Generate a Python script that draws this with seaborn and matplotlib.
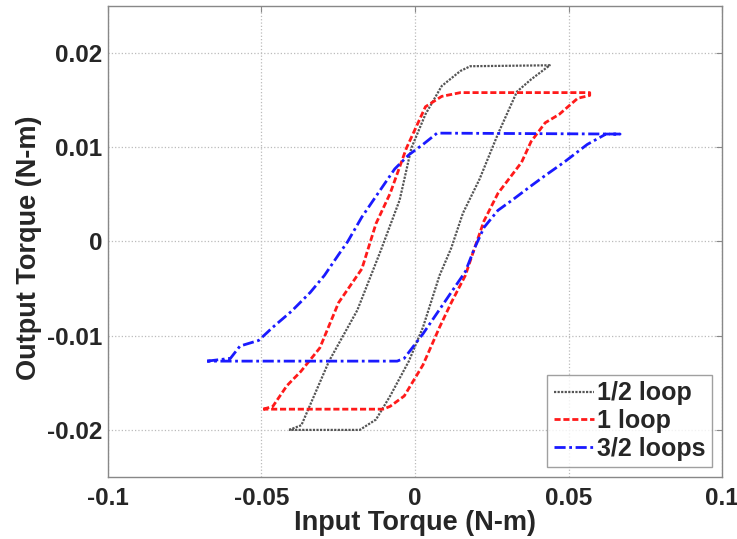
import matplotlib
matplotlib.use("Agg")
import matplotlib.pyplot as plt
import seaborn as sns
import pandas as pd

# ---- data ----
half_x = [-0.041, -0.037, -0.028, -0.0188, -0.0112, -0.005, -0.0012, 0.0034, 0.0087, 0.0148, 0.018, 0.0439,
          0.0378, 0.0332, 0.027, 0.021, 0.0156, 0.0118, 0.008, 0.0026, -0.002, -0.0081, -0.0127, -0.018, -0.041]
half_y = [-0.020, -0.0195, -0.0127, -0.0073, -0.001, 0.0044, 0.0099, 0.0135, 0.0165, 0.0181, 0.0186, 0.0187,
          0.0172, 0.0159, 0.0114, 0.0066, 0.003, -0.0007, -0.0036, -0.0091, -0.0127, -0.0164, -0.0189, -0.020, -0.020]

one_x = [-0.0494, -0.0463, -0.0417, -0.0372, -0.031, -0.0249, -0.0173, -0.0127, -0.0081, -0.0028, 0.0003, 0.0034,
         0.0087, 0.0148, 0.0569, 0.0569, 0.053, 0.047, 0.0424, 0.0378, 0.0347, 0.027, 0.0225, 0.0194, 0.0164,
         0.0118, 0.008, 0.0026, -0.0035, -0.0081, -0.0104, -0.0494]
one_y = [-0.0178, -0.0175, -0.0153, -0.0138, -0.0113, -0.0065, -0.0029, 0.0019, 0.0051, 0.0099, 0.0121, 0.0143,
         0.0154, 0.0158, 0.0158, 0.0155, 0.0152, 0.0135, 0.0126, 0.0106, 0.0084, 0.0051, 0.0022, -0.0007, -0.0036,
         -0.0065, -0.0091, -0.0131, -0.0164, -0.0175, -0.0178, -0.0178]

three_x = [-0.0677, -0.0601, -0.057, -0.0509, -0.0463, -0.0402, -0.0341, -0.0295, -0.0249, -0.0219, -0.0173,
           -0.0127, -0.0066, -0.002, 0.0026, 0.0072, 0.0668, 0.0622, 0.0561, 0.0485, 0.0424, 0.0378, 0.0317,
           0.027, 0.0225, 0.0194, 0.0164, 0.0118, 0.0072, 0.0026, -0.0035, -0.0058, -0.0677]
three_y = [-0.0127, -0.0124, -0.0111, -0.0105, -0.0091, -0.0074, -0.0054, -0.0036, -0.0014, 0.0, 0.0026,
           0.0048, 0.0077, 0.0092, 0.0103, 0.0115, 0.0114, 0.0114, 0.0103, 0.0084, 0.007, 0.0059, 0.0044,
           0.0033, 0.0015, -0.0007, -0.0032, -0.0054, -0.0076, -0.0098, -0.0124, -0.0127, -0.0127]

labels = ["1/2 loop", "1 loop", "3/2 loops"]
x_ticks = [-0.1, -0.05, 0, 0.05, 0.1]
x_tick_labels = ["-0.1", "-0.05", "0", "0.05", "0.1"]
y_ticks = [-0.02, -0.01, 0, 0.01, 0.02]
y_tick_labels = ["-0.02", "-0.01", "0", "0.01", "0.02"]

sns.set_style("white")
plt.rcParams["font.family"] = ["Liberation Sans", "DejaVu Sans"]

fig = plt.figure(figsize=(7.37, 5.39), dpi=100)
ax = fig.add_axes([0.1465, 0.115, 0.8332, 0.874])

styles = [
    dict(color="#555555", linestyle=(0, (1, 0.6)), linewidth=1.6),
    dict(color="#ff1a1a", linestyle=(0, (2.2, 1.0)), linewidth=2.0),
    dict(color="#1a1aff", linestyle=(0, (4, 1.3, 1, 1.3)), linewidth=2.0),
]
for xs, ys, lab, st in zip([half_x, one_x, three_x], [half_y, one_y, three_y], labels, styles):
    df = pd.DataFrame({"x": xs, "y": ys})
    sns.lineplot(data=df, x="x", y="y", sort=False, estimator=None, ax=ax, label=lab, **st)

ax.set_xlim(-0.1, 0.1)
ax.set_ylim(-0.025, 0.025)
ax.set_xticks(x_ticks)
ax.set_xticklabels(x_tick_labels)
ax.set_yticks(y_ticks)
ax.set_yticklabels(y_tick_labels)
ax.grid(True, linestyle=":", color="#bbbbbb", linewidth=0.9)
for s in ax.spines.values():
    s.set_color("#888888")
    s.set_linewidth(1.0)
ax.tick_params(axis="both", direction="in", length=4, color="#888888",
               labelsize=17.5, right=True, top=True)
ax.tick_params(axis="x", pad=7)
ax.tick_params(axis="y", pad=4)
for t in ax.get_xticklabels() + ax.get_yticklabels():
    t.set_fontweight("bold")
ax.set_xlabel("Input Torque (N-m)", fontsize=19.5, fontweight="bold", labelpad=0)
ax.set_ylabel("Output Torque (N-m)", fontsize=19.5, fontweight="bold")
ax.yaxis.set_label_coords(-0.108, 0.487)

leg = ax.legend(loc="lower right", prop={"size": 18, "weight": "bold"}, frameon=True,
                fancybox=False, edgecolor="#888888", handlelength=1.6, handletextpad=0.15,
                borderaxespad=0.4, labelspacing=0.15, borderpad=0.25)
leg.get_frame().set_linewidth(1.0)

fig.savefig("out.png", dpi=100)
